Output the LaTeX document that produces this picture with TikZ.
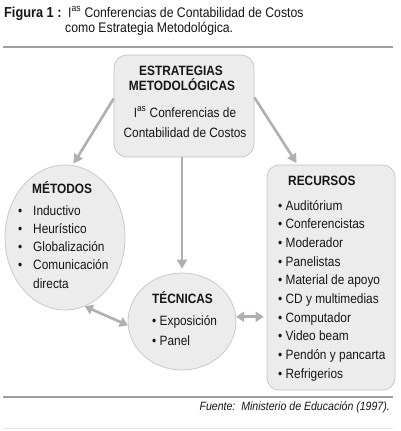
\documentclass[tikz,border=0pt]{standalone}
\usepackage{fontspec}
\setmainfont{Liberation Sans}[FakeStretch=0.88]
\usetikzlibrary{arrows.meta,shapes.geometric,calc}
\definecolor{shapefill}{HTML}{ECECEC}
\definecolor{shapeline}{HTML}{C4C4C4}
\definecolor{arrowgray}{HTML}{B0B0B0}
\definecolor{txt}{HTML}{161616}
\definecolor{rulegray}{HTML}{A0A0A0}
\begin{document}
\begin{tikzpicture}[x=1pt,y=-1pt,
  boxshape/.style={draw=shapeline,fill=shapefill,line width=0.7pt,rounded corners=13pt,inner sep=0},
  ellshape/.style={ellipse,draw=shapeline,fill=shapefill,line width=0.7pt,inner sep=0},
  lbl/.style={inner sep=0,anchor=base west,text=txt,font=\fontsize{13.5}{18}\selectfont},
  lblb/.style={inner sep=0,anchor=base west,text=txt,font=\fontsize{13.5}{18}\selectfont\bfseries},
  ttl/.style={inner sep=0,anchor=base west,text=txt,font=\fontsize{13.9}{16}\selectfont},
  conn/.style={draw=arrowgray,line width=2.6pt,-{Triangle[length=9pt,width=10pt]}},
  dconn/.style={draw=arrowgray,line width=2.6pt,{Triangle[length=8pt,width=10pt]}-{Triangle[length=8pt,width=10pt]}},
]
\fill[white] (0,0) rectangle (400,431);
\useasboundingbox (0,0) rectangle (400,431);

% title
\node[ttl,font=\fontsize{14.5}{16}\selectfont\bfseries] (fig) at (4,17) {Figura 1 :};
\node[ttl] (t1) at (68,17) {I\textsuperscript{as} Conferencias de Contabilidad de Costos};
\node[ttl] (t2) at (65,32) {como Estrategia Metodológica.};
\draw[rulegray,line width=1.3pt] (3,47) -- (393,47);

% top box
\node[boxshape,minimum width=140,minimum height=102] (top) at (184,106) {};
\node[lblb,anchor=base] (e1) at (181,75) {ESTRATEGIAS};
\node[lblb,anchor=base] (e2) at (182,90) {METODOLÓGICAS};
\node[lbl,anchor=base] (e3) at (185,117) {I\textsuperscript{as} Conferencias de};
\node[lbl,anchor=base] (e4) at (185,137) {Contabilidad de Costos};

% metodos
\node[ellshape,minimum width=120,minimum height=145] (met) at (65,237.5) {};
\node[lblb] (mh) at (32,193) {MÉTODOS};
\foreach \t [count=\i] in {Inductivo,Heurístico,Globalización,Comunicación} {
  \node[lbl] (mb\i) at (18,{215+18.3*(\i-1)}) {•};
  \node[lbl] (mi\i) at (33,{215+18.3*(\i-1)}) {\t};
}
\node[lbl] (mi5) at (33,288) {directa};

% recursos
\node[boxshape,minimum width=128,minimum height=225,rounded corners=12pt] (rec) at (331,277.5) {};
\node[lblb] (rh) at (288,185) {RECURSOS};
\foreach \t [count=\i] in {Auditórium,Conferencistas,Moderador,Panelistas,Material de apoyo,CD y multimedias,Computador,Video beam,Pendón y pancarta,Refrigerios} {
  \node[lbl] (ri\i) at (278,{210+18.67*(\i-1)}) {• \t};
}

% tecnicas
\node[ellshape,minimum width=108,minimum height=97] (tec) at (182,321.5) {};
\node[lblb] (th) at (152,303) {TÉCNICAS};
\node[lbl] (ti1) at (152,325) {• Exposición};
\node[lbl] (ti2) at (152,345) {• Panel};

% connectors
\draw[conn,shorten >=2pt] (top.174) -- (met.84);
\draw[conn,shorten >=2pt] (top.7) -- ($(rec.north west)!0.24!(rec.north east)$);
\draw[conn,shorten >=4pt] (top.south -| tec.north) -- (tec.north);
\draw[dconn] (met.-74) -- (tec.184);
\draw[dconn,shorten >=3pt] (tec.5) -- (tec.5 -| rec.west);

% footer
\draw[rulegray,line width=1.2pt] (3,397) -- (393,397);
\node[inner sep=0,anchor=base east,text=txt,font=\fontsize{12}{14}\selectfont\itshape] (src) at (390,410) {Fuente:\ \ Ministerio de Educación (1997).};
\draw[gray!20,line width=0.8pt] (3,428) -- (393,428);
\end{tikzpicture}
\end{document}
